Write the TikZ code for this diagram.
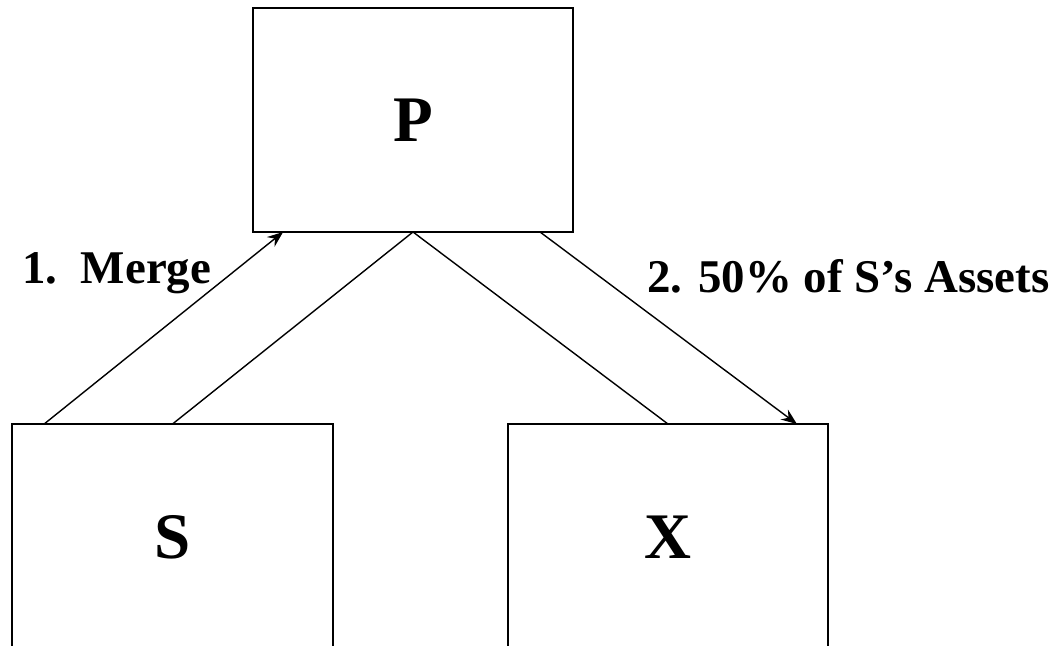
\documentclass[tikz,border=0pt]{standalone}
\usepackage{fontspec}
\setmainfont{Liberation Serif}
\usetikzlibrary{positioning,calc,arrows.meta}

\begin{document}
\begin{tikzpicture}[x=0.02cm, y=-0.02cm,
  entity/.style={draw, line width=1.1pt, outer sep=0pt, font=\fontsize{37}{40}\selectfont\bfseries},
  link/.style={line width=0.8pt},
  flow/.style={link, -{Stealth[length=9pt, width=7pt, inset=3pt]}},
  steplabel/.style={inner sep=0pt, anchor=base west, font=\fontsize{26.7}{30}\selectfont\bfseries}]
\useasboundingbox (0,0) rectangle (1059,646);

% Companies
\node[entity, minimum width=6.4cm, minimum height=4.48cm] (P) at (413,120) {P};
\node[entity, minimum width=6.42cm, minimum height=4.52cm] (S) at (172.5,537) {S};
\node[entity, minimum width=6.4cm, minimum height=4.52cm] (X) at (668,537) {X};

% Ownership lines
\draw[link] (S.north) -- (P.south);
\draw[link] (P.south) -- (X.north);

% Steps
\draw[flow] ($(S.north west)!0.1!(S.north east)$) -- ($(P.south west)!0.094!(P.south east)$);
\draw[flow] ($(P.south west)!0.897!(P.south east)$) -- ($(X.north west)!0.903!(X.north east)$);

\node[steplabel] (lblmerge) at (22,283) {1.\ \ Merge};
\node[steplabel] (lblassets) at (647,292) {2. 50\% of S’s Assets};
\end{tikzpicture}
\end{document}
